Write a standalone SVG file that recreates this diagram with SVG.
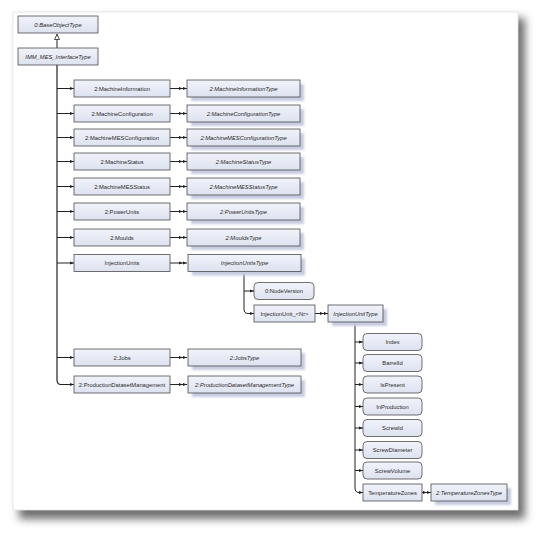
<svg xmlns="http://www.w3.org/2000/svg" width="550" height="543" viewBox="0 0 550 543">
<defs>
<linearGradient id="g" x1="0" y1="0" x2="0" y2="1">
<stop offset="0" stop-color="#f1f3fa"/>
<stop offset="1" stop-color="#dde2f0"/>
</linearGradient>
<filter id="ps" x="-10%" y="-10%" width="120%" height="120%"><feGaussianBlur stdDeviation="4"/></filter>
<filter id="bs" x="-20%" y="-50%" width="140%" height="200%"><feGaussianBlur stdDeviation="1"/></filter>
<marker id="ca" viewBox="0 0 4 4" refX="4" refY="2" markerWidth="4" markerHeight="4" markerUnits="userSpaceOnUse" orient="auto"><path d="M0,0.5 L4,2 L0,3.5 Z" fill="#222"/></marker>
<marker id="td" viewBox="0 0 8 4" refX="8" refY="2" markerWidth="8" markerHeight="4" markerUnits="userSpaceOnUse" orient="auto"><path d="M0,0.4 L3.6,2 L0,3.6 Z M4,0.4 L7.6,2 L4,3.6 Z" fill="#222"/></marker>
<marker id="st" viewBox="0 0 6 6" refX="6" refY="3" markerWidth="6" markerHeight="6" markerUnits="userSpaceOnUse" orient="auto"><path d="M0.5,0.5 L5.5,3 L0.5,5.5 Z" fill="#fff" stroke="#222" stroke-width="0.8"/></marker>
</defs>
<style>
.b{fill:url(#g);stroke:#4d4d4d;stroke-width:0.8}
.sh{fill:#c6cbe0;filter:url(#bs)}
.t{font-family:"Liberation Sans",Arial,sans-serif;font-size:5.8px;fill:#2a2a2a;text-anchor:middle;dominant-baseline:central}
.i{font-style:italic}
.c{fill:none;stroke:#222;stroke-width:1}
.ca{marker-end:url(#ca)}
.td{marker-end:url(#td)}
</style>
<rect x="0" y="0" width="550" height="543" fill="#fff"/>
<rect x="19" y="18" width="506" height="501" fill="#6e6e6e" filter="url(#ps)"/>
<rect x="13" y="12" width="505" height="498" fill="#fff" stroke="#e4e4e4" stroke-width="0.8"/>

<g id="connectors">
<path class="c" d="M57,48 V34" marker-end="url(#st)"/>
<path class="c" style="stroke-width:1.2" d="M57,65 V380 Q57,384.5 61,384.5 H74" marker-end="url(#ca)"/>
<path class="c ca" d="M57,88.5 H74"/>
<path class="c ca" d="M57,113.5 H74"/>
<path class="c ca" d="M57,137.5 H74"/>
<path class="c ca" d="M57,161.5 H74"/>
<path class="c ca" d="M57,186.5 H74"/>
<path class="c ca" d="M57,211.5 H74"/>
<path class="c ca" d="M57,237.5 H74"/>
<path class="c ca" d="M57,263 H74"/>
<path class="c ca" d="M57,357.5 H74"/>
<path class="c td" d="M170,88.5 H187"/>
<path class="c td" d="M170,113.5 H187"/>
<path class="c td" d="M170,137.5 H187"/>
<path class="c td" d="M170,161.5 H187"/>
<path class="c td" d="M170,186.5 H187"/>
<path class="c td" d="M170,211.5 H187"/>
<path class="c td" d="M170,237.5 H187"/>
<path class="c td" d="M170,263 H187"/>
<path class="c td" d="M170,357.5 H187"/>
<path class="c td" d="M170,384.5 H187"/>
<path class="c" d="M244,272 V309 Q244,313.5 248,313.5 H254" marker-end="url(#ca)"/>
<path class="c ca" d="M244,291 H254"/>
<path class="c td" d="M315,313.5 H328"/>
<path class="c" d="M355,322 V488 Q355,492.5 359,492.5 H363" marker-end="url(#ca)"/>
<path class="c ca" d="M355,342 H363"/>
<path class="c ca" d="M355,363 H363"/>
<path class="c ca" d="M355,384.5 H363"/>
<path class="c ca" d="M355,406.5 H363"/>
<path class="c ca" d="M355,428 H363"/>
<path class="c ca" d="M355,450 H363"/>
<path class="c ca" d="M355,470.5 H363"/>
<path class="c td" d="M422,492.5 H431"/>
</g>

<g id="n-base"><rect class="b" x="18" y="16" width="80" height="17"/><text class="t i" x="58" y="24.5">0:BaseObjectType</text></g>
<g id="n-imm"><rect class="b" x="18" y="48" width="80" height="17"/><text class="t i" x="58" y="56.5">IMM_MES_InterfaceType</text></g>

<g id="n-mi"><rect class="b" x="74" y="80" width="96" height="17"/><text class="t" x="122" y="88.5">2:MachineInformation</text></g>
<g id="n-mit"><rect class="sh" x="191" y="84" width="113" height="17"/><rect class="b" x="187" y="80" width="113" height="17"/><text class="t i" x="243.5" y="88.5">2:MachineInformationType</text></g>

<g id="n-mc"><rect class="b" x="74" y="105" width="96" height="17"/><text class="t" x="122" y="113.5">2:MachineConfiguration</text></g>
<g id="n-mct"><rect class="sh" x="191" y="109" width="113" height="17"/><rect class="b" x="187" y="105" width="113" height="17"/><text class="t i" x="243.5" y="113.5">2:MachineConfigurationType</text></g>

<g id="n-mmc"><rect class="b" x="74" y="129" width="96" height="17"/><text class="t" x="122" y="137.5">2:MachineMESConfiguration</text></g>
<g id="n-mmct"><rect class="sh" x="191" y="133" width="113" height="17"/><rect class="b" x="187" y="129" width="113" height="17"/><text class="t i" x="243.5" y="137.5">2:MachineMESConfigurationType</text></g>

<g id="n-ms"><rect class="b" x="74" y="153" width="96" height="17"/><text class="t" x="122" y="161.5">2:MachineStatus</text></g>
<g id="n-mst"><rect class="sh" x="191" y="157" width="113" height="17"/><rect class="b" x="187" y="153" width="113" height="17"/><text class="t i" x="243.5" y="161.5">2:MachineStatusType</text></g>

<g id="n-mms"><rect class="b" x="74" y="178" width="96" height="17"/><text class="t" x="122" y="186.5">2:MachineMESStatus</text></g>
<g id="n-mmst"><rect class="sh" x="191" y="182" width="113" height="17"/><rect class="b" x="187" y="178" width="113" height="17"/><text class="t i" x="243.5" y="186.5">2:MachineMESStatusType</text></g>

<g id="n-pu"><rect class="b" x="74" y="203" width="96" height="17"/><text class="t" x="122" y="211.5">2:PowerUnits</text></g>
<g id="n-put"><rect class="sh" x="191" y="207" width="113" height="17"/><rect class="b" x="187" y="203" width="113" height="17"/><text class="t i" x="243.5" y="211.5">2:PowerUnitsType</text></g>

<g id="n-mo"><rect class="b" x="74" y="229" width="96" height="17"/><text class="t" x="122" y="237.5">2:Moulds</text></g>
<g id="n-mot"><rect class="sh" x="191" y="233" width="113" height="17"/><rect class="b" x="187" y="229" width="113" height="17"/><text class="t i" x="243.5" y="237.5">2:MouldsType</text></g>

<g id="n-iu"><rect class="b" x="74" y="254.5" width="96" height="17"/><text class="t" x="122" y="263">InjectionUnits</text></g>
<g id="n-iut"><rect class="sh" x="192" y="258.5" width="113" height="17"/><rect class="b" x="188" y="254.5" width="113" height="17"/><text class="t i" x="244.5" y="263">InjectionUnitsType</text></g>

<g id="n-nv"><rect class="b" x="254" y="282.5" width="60" height="17" rx="4"/><text class="t" x="284" y="291">0:NodeVersion</text></g>
<g id="n-iun"><rect class="b" x="254" y="305" width="61" height="17"/><text class="t" x="284.5" y="313.5">InjectionUnit_&lt;Nr&gt;</text></g>
<g id="n-iunt"><rect class="sh" x="332" y="309" width="55" height="17"/><rect class="b" x="328" y="305" width="55" height="17"/><text class="t i" x="355.5" y="313.5">InjectionUnitType</text></g>

<g id="n-idx"><rect class="b" x="363" y="333.5" width="59" height="17" rx="4"/><text class="t" x="392.5" y="342">Index</text></g>
<g id="n-bar"><rect class="b" x="363" y="354.5" width="59" height="17" rx="4"/><text class="t" x="392.5" y="363">BarrelId</text></g>
<g id="n-isp"><rect class="b" x="363" y="376" width="59" height="17" rx="4"/><text class="t" x="392.5" y="384.5">IsPresent</text></g>
<g id="n-inp"><rect class="b" x="363" y="398" width="59" height="17" rx="4"/><text class="t" x="392.5" y="406.5">InProduction</text></g>
<g id="n-sid"><rect class="b" x="363" y="419.5" width="59" height="17" rx="4"/><text class="t" x="392.5" y="428">ScrewId</text></g>
<g id="n-sd"><rect class="b" x="363" y="441.5" width="59" height="17" rx="4"/><text class="t" x="392.5" y="450">ScrewDiameter</text></g>
<g id="n-sv"><rect class="b" x="363" y="462" width="59" height="17" rx="4"/><text class="t" x="392.5" y="470.5">ScrewVolume</text></g>
<g id="n-tz"><rect class="b" x="363" y="484" width="59" height="17"/><text class="t" x="392.5" y="492.5">TemperatureZones</text></g>
<g id="n-tzt"><rect class="sh" x="435" y="488" width="76" height="17"/><rect class="b" x="431" y="484" width="76" height="17"/><text class="t i" x="469" y="492.5">2:TemperatureZonesType</text></g>

<g id="n-jobs"><rect class="b" x="74" y="349" width="96" height="17"/><text class="t" x="122" y="357.5">2:Jobs</text></g>
<g id="n-jobst"><rect class="sh" x="192" y="353" width="113" height="17"/><rect class="b" x="188" y="349" width="113" height="17"/><text class="t i" x="244.5" y="357.5">2:JobsType</text></g>

<g id="n-pdm"><rect class="b" x="74" y="376" width="96" height="17"/><text class="t" x="122" y="384.5">2:ProductionDatasetManagement</text></g>
<g id="n-pdmt"><rect class="sh" x="192" y="380" width="113" height="17"/><rect class="b" x="188" y="376" width="113" height="17"/><text class="t i" x="244.5" y="384.5">2:ProductionDatasetManagementType</text></g>
</svg>
